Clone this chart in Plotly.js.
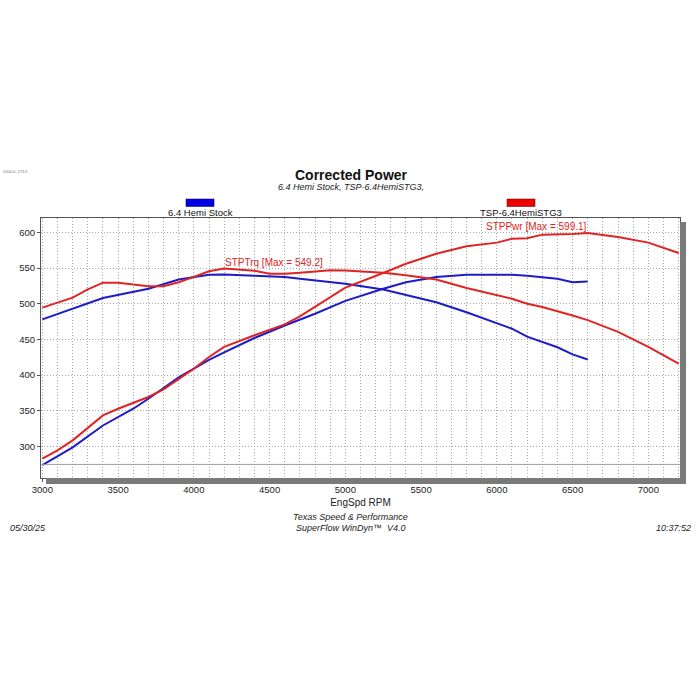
<!DOCTYPE html>
<html>
<head>
<meta charset="utf-8">
<script src="https://cdn.plot.ly/plotly-3.0.1.min.js"></script>
<style>html,body{margin:0;padding:0;background:#fff;}#chart{width:700px;height:700px;}</style>
</head>
<body>
<div id="chart"></div>
<script>
// Stock (blue)
const stockTrqRpm = [3000,3200,3400,3700,3900,4100,4200,4400,4600,4700,5000,5250,5600,5800,6100,6200,6400,6500,6600];
const stockTrq    = [478,493,508,521,534,540.5,541,539,537.5,535,528,520,502,488,465,454,439,429,422];
const stockPwrRpm = [3000,3200,3400,3600,3700,3900,4000,4100,4200,4400,4600,4800,5000,5250,5400,5600,5800,6100,6200,6400,6500,6600];
const stockPwr    = [274,299,329.5,353,367,397,409,421.5,432,452,469.5,486,504,521,530,537.5,540.5,540.5,539,535,530,531];
// TSP Stage 3 (red)
const stg3TrqRpm = [3000,3100,3200,3300,3400,3500,3600,3700,3800,3900,4000,4100,4200,4400,4500,4600,4700,4900,5000,5250,5400,5600,5800,6000,6100,6200,6300,6500,6600,6800,7000,7200];
const stg3Trq    = [494.5,501.5,508.5,520,529.5,529.5,527,524.5,524.5,530,537.5,545.5,549.2,546,542,542,543.5,547,546.5,543.5,540,534,522,512,507,500,495.5,483.5,477,460.5,439.5,416];
const stg3PwrRpm = [3000,3100,3200,3300,3400,3500,3600,3700,3800,3900,4000,4100,4200,4400,4600,4700,4800,4900,5000,5250,5400,5600,5800,6000,6100,6200,6300,6500,6600,6800,7000,7200];
const stg3Pwr    = [283,294.7,308.7,326.5,343.7,353,361.5,369.4,380,395,409,425.4,439.5,455.8,471,482.4,495.4,508.5,522.6,543,556,570,580.4,585.5,591,591.8,596.7,597.7,599.1,593.5,585.5,571];

const seriesNames = ['6.4 Hemi Stock', 'TSP-6.4HemiSTG3'];
const xTickVals = [3000,3500,4000,4500,5000,5500,6000,6500,7000];
const yTickVals = [300,350,400,450,500,550,600];

const BLUE = '#1c1cc8', RED = '#e02424';
const FONT = 'Liberation Sans, Arial, sans-serif';
const GRID = '#a8a8a8', GDASH = '1px,2px';

const traces = [
  {x: stockTrqRpm, y: stockTrq, mode:'lines', line:{color:BLUE, width:2}, name:'Stock Trq', showlegend:false, hoverinfo:'skip'},
  {x: stockPwrRpm, y: stockPwr, mode:'lines', line:{color:BLUE, width:2}, name:'Stock Pwr', showlegend:false, hoverinfo:'skip'},
  {x: stg3TrqRpm, y: stg3Trq, mode:'lines', line:{color:RED, width:2}, name:'STG3 Trq', showlegend:false, hoverinfo:'skip'},
  {x: stg3PwrRpm, y: stg3Pwr, mode:'lines', line:{color:RED, width:2}, name:'STG3 Pwr', showlegend:false, hoverinfo:'skip'}
];

const maxTrq = Math.max(...stg3Trq), maxTrqRpm = stg3TrqRpm[stg3Trq.indexOf(maxTrq)];
const maxPwr = Math.max(...stg3Pwr), maxPwrRpm = stg3PwrRpm[stg3Pwr.indexOf(maxPwr)];

const PW = 639, PH = 260;
const layout = {
  width:700, height:700,
  margin:{l:41, r:20, t:218, b:222, pad:0},
  paper_bgcolor:'#fff', plot_bgcolor:'#fff',
  font:{family:FONT, color:'#222', size:10},
  showlegend:false,
  xaxis:{
    range:[2991,7209], tickvals:xTickVals, ticktext:xTickVals.map(String),
    showgrid:true, gridcolor:GRID, griddash:GDASH, gridwidth:1,
    minor:{dtick:100, tick0:3000, showgrid:true, gridcolor:GRID, griddash:GDASH, gridwidth:1, ticks:''},
    showline:true, linecolor:'#555', linewidth:1, mirror:true,
    ticks:'outside', ticklen:3, tickcolor:'#555',
    tickfont:{size:9.5, family:FONT, color:'#222'},
    zeroline:false,
    title:{text:'EngSpd RPM', font:{size:10, family:FONT, color:'#222'}, standoff:4}
  },
  yaxis:{
    range:[256,620], tickvals:yTickVals, ticktext:yTickVals.map(String),
    showgrid:true, gridcolor:GRID, griddash:GDASH, gridwidth:1,
    showline:true, linecolor:'#555', linewidth:1, mirror:true,
    ticks:'outside', ticklen:3, tickcolor:'#555',
    tickfont:{size:9.5, family:FONT, color:'#222'},
    zeroline:false
  },
  shapes:[
    {type:'line', xref:'paper', yref:'y', x0:0, x1:1, y0:275, y1:275, line:{color:'#a0a0a0', width:1}},
    {type:'rect', xref:'paper', yref:'paper', x0:5/PW, x1:1+6/PW, y0:-6/PH, y1:0, fillcolor:'#7a7a7a', line:{width:0}},
    {type:'rect', xref:'paper', yref:'paper', x0:1, x1:1+6/PW, y0:-6/PH, y1:1-4/PH, fillcolor:'#7a7a7a', line:{width:0}},
    // legend swatches
    {type:'rect', xref:'paper', yref:'paper', x0:(186-41)/PW, x1:(214-41)/PW, y0:(478-206.5)/PH, y1:(478-199)/PH, fillcolor:'#0000e6', line:{color:'#101060', width:0.6}},
    {type:'rect', xref:'paper', yref:'paper', x0:(507-41)/PW, x1:(535-41)/PW, y0:(478-206.5)/PH, y1:(478-199)/PH, fillcolor:'#ee0000', line:{color:'#601010', width:0.6}}
  ],
  annotations:[
    {xref:'paper', yref:'paper', x:(351-41)/PW, y:(478-175)/PH, text:'<b>Corrected Power</b>', showarrow:false, xanchor:'center', yanchor:'middle', font:{size:14, family:FONT, color:'#111'}},
    {xref:'paper', yref:'paper', x:(351-41)/PW, y:(478-187)/PH, text:'<i>' + seriesNames.join(', ') + ',</i>', showarrow:false, xanchor:'center', yanchor:'middle', font:{size:9, family:FONT, color:'#222'}},
    {xref:'paper', yref:'paper', x:(200-41)/PW, y:(478-212)/PH, text:seriesNames[0], showarrow:false, xanchor:'center', yanchor:'middle', font:{size:9.5, family:FONT, color:'#111'}},
    {xref:'paper', yref:'paper', x:(521-41)/PW, y:(478-212)/PH, text:seriesNames[1], showarrow:false, xanchor:'center', yanchor:'middle', font:{size:9.5, family:FONT, color:'#111'}},
    {xref:'x', yref:'y', x:maxTrqRpm, y:maxTrq, text:'STPTrq [Max = ' + maxTrq.toFixed(1) + ']', showarrow:false, xanchor:'left', yanchor:'bottom', xshift:-1, yshift:-1, font:{size:10, family:FONT, color:RED}},
    {xref:'x', yref:'y', x:maxPwrRpm, y:maxPwr, text:'STPPwr [Max = ' + maxPwr.toFixed(1) + ']', showarrow:false, xanchor:'right', yanchor:'bottom', xshift:1, yshift:-1, font:{size:10, family:FONT, color:RED}},
    {xref:'paper', yref:'paper', x:(350-41)/PW, y:(478-516.5)/PH, text:'<i>Texas Speed &amp; Performance</i>', showarrow:false, xanchor:'center', yanchor:'middle', font:{size:9, family:FONT, color:'#222'}},
    {xref:'paper', yref:'paper', x:(350-41)/PW, y:(478-527.5)/PH, text:'<i>SuperFlow WinDyn™  V4.0</i>', showarrow:false, xanchor:'center', yanchor:'middle', font:{size:9, family:FONT, color:'#222'}},
    {xref:'paper', yref:'paper', x:(8-41)/PW, y:(478-527.5)/PH, text:'<i>05/30/25</i>', showarrow:false, xanchor:'left', yanchor:'middle', font:{size:9, family:FONT, color:'#222'}},
    {xref:'paper', yref:'paper', x:(693-41)/PW, y:(478-527.5)/PH, text:'<i>10:37:52</i>', showarrow:false, xanchor:'right', yanchor:'middle', font:{size:9, family:FONT, color:'#222'}},
    {xref:'paper', yref:'paper', x:(1-41)/PW, y:(478-171)/PH, text:'5000.0, 273.5', showarrow:false, xanchor:'left', yanchor:'middle', font:{size:4, family:FONT, color:'#777'}}
  ]
};

Plotly.newPlot('chart', traces, layout, {staticPlot:true, displayModeBar:false});
</script>
</body>
</html>
